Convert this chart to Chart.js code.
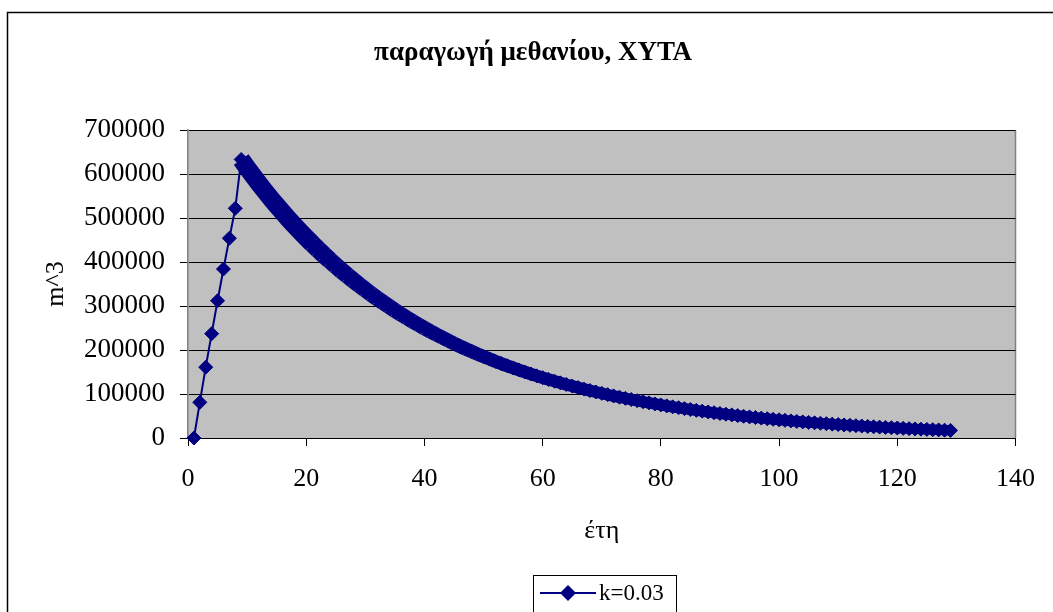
<!DOCTYPE html>
<html>
<head>
<meta charset="utf-8">
<title>παραγωγή μεθανίου, ΧΥΤΑ</title>
<script src="https://cdn.jsdelivr.net/npm/chart.js@4.4.1/dist/chart.umd.min.js"></script>
<style>
    html, body { margin: 0; padding: 0; background: #fff; }
    #wrap { width: 1053px; height: 612px; }
</style>
</head>
<body>
<div id="wrap"><canvas id="methaneChart" width="1053" height="612"></canvas></div>
<script>
// ==================== ДАННЫЕ ====================

const chartTitle = 'παραγωγή μεθανίου, ΧΥΤΑ';
const xTitle = 'έτη';
const yTitle = 'm^3';
const seriesLabel = 'k=0.03';

const years = [
    1, 2, 3, 4, 5, 6, 7, 8, 9, 10,
    11, 12, 13, 14, 15, 16, 17, 18, 19, 20,
    21, 22, 23, 24, 25, 26, 27, 28, 29, 30,
    31, 32, 33, 34, 35, 36, 37, 38, 39, 40,
    41, 42, 43, 44, 45, 46, 47, 48, 49, 50,
    51, 52, 53, 54, 55, 56, 57, 58, 59, 60,
    61, 62, 63, 64, 65, 66, 67, 68, 69, 70,
    71, 72, 73, 74, 75, 76, 77, 78, 79, 80,
    81, 82, 83, 84, 85, 86, 87, 88, 89, 90,
    91, 92, 93, 94, 95, 96, 97, 98, 99, 100,
    101, 102, 103, 104, 105, 106, 107, 108, 109, 110,
    111, 112, 113, 114, 115, 116, 117, 118, 119, 120,
    121, 122, 123, 124, 125, 126, 127, 128, 129
];

// m^3 per year
const methane = [
    0, 81000, 161000, 237000, 312000, 384000, 454000, 522000,
    633000, 614300, 596100, 578500, 561400, 544800, 528700, 513100, 497900, 483200,
    468900, 455100, 441600, 428600, 415900, 403600, 391700, 380100, 368900, 358000,
    347400, 337100, 327200, 317500, 308100, 299000, 290200, 281600, 273300, 265200,
    257400, 249700, 242400, 235200, 228300, 221500, 215000, 208600, 202400, 196500,
    190700, 185000, 179600, 174200, 169100, 164100, 159300, 154500, 150000, 145500,
    141200, 137100, 133000, 129100, 125300, 121600, 118000, 114500, 111100, 107800,
    104600, 101500, 98500, 95600, 92800, 90100, 87400, 84800, 82300, 79900,
    77500, 75200, 73000, 70800, 68800, 66700, 64700, 62800, 61000, 59200,
    57400, 55700, 54100, 52500, 50900, 49400, 48000, 46500, 45200, 43800,
    42500, 41300, 40100, 38900, 37700, 36600, 35500, 34500, 33500, 32500,
    31500, 30600, 29700, 28800, 28000, 27100, 26300, 25500, 24800, 24100,
    23300, 22700, 22000, 21300, 20700, 20100, 19500, 18900, 18400, 17800,
    17300
];

const xTicks = [0, 20, 40, 60, 80, 100, 120, 140];
const yTicks = [0, 100000, 200000, 300000, 400000, 500000, 600000, 700000];

// ==================== ОФОРМЛЕНИЕ ====================

const SERIF = "'Liberation Serif', 'Times New Roman', serif";
const NAVY = '#000080';
const PEAK_INDEX = 8;

/**
 * Фон, рамка, серая область графика, заголовки и легенда
 */
const excelLook = {
    id: 'excelLook',
    beforeDraw(chart) {
        const { ctx, chartArea: a } = chart;
        ctx.save();
        ctx.fillStyle = '#ffffff';
        ctx.fillRect(0, 0, chart.width, chart.height);

        // outer frame (runs off the right and bottom edges)
        ctx.strokeStyle = '#000000';
        ctx.lineWidth = 1.5;
        ctx.strokeRect(7.5, 12.5, chart.width + 20, chart.height + 20);

        // plot area
        ctx.fillStyle = '#c0c0c0';
        ctx.fillRect(a.left, a.top, a.right - a.left, a.bottom - a.top);
        ctx.strokeStyle = '#808080';
        ctx.lineWidth = 1.5;
        ctx.beginPath();
        ctx.moveTo(a.right, a.top);
        ctx.lineTo(a.right, a.bottom);
        ctx.stroke();
        ctx.restore();
    },
    afterDraw(chart) {
        const { ctx, chartArea: a } = chart;
        ctx.save();
        ctx.fillStyle = '#000000';

        // title
        ctx.font = 'bold 27px ' + SERIF;
        ctx.textAlign = 'center';
        ctx.textBaseline = 'alphabetic';
        ctx.fillText(chartTitle, 533, 60);

        // axis titles
        ctx.font = '26px ' + SERIF;
        ctx.fillText(xTitle, (a.left + a.right) / 2, 538);
        ctx.save();
        ctx.translate(63, (a.top + a.bottom) / 2);
        ctx.rotate(-Math.PI / 2);
        ctx.fillText(yTitle, 0, 0);
        ctx.restore();

        // legend box
        const lx = 533, ly = 575, lw = 143, lh = 40;
        ctx.strokeStyle = '#000000';
        ctx.lineWidth = 1;
        ctx.strokeRect(lx + 0.5, ly + 0.5, lw, lh);
        const my = 593;
        ctx.strokeStyle = NAVY;
        ctx.lineWidth = 2;
        ctx.beginPath();
        ctx.moveTo(540, my);
        ctx.lineTo(596, my);
        ctx.stroke();
        ctx.fillStyle = NAVY;
        ctx.beginPath();
        ctx.moveTo(568, my - 8);
        ctx.lineTo(576, my);
        ctx.lineTo(568, my + 8);
        ctx.lineTo(560, my);
        ctx.closePath();
        ctx.fill();
        ctx.fillStyle = '#000000';
        ctx.font = '23px ' + SERIF;
        ctx.textAlign = 'left';
        ctx.textBaseline = 'middle';
        ctx.fillText(seriesLabel, 599, my + 1);
        ctx.restore();
    }
};

// ==================== ГРАФИК ====================

const points = years.map((year, i) => ({ x: year, y: methane[i] }));

// after the peak the yearly markers overlap and merge into one band,
// thicker where the curve is steep
function segmentWidth(c) {
    if (c.p0DataIndex < PEAK_INDEX) return 2;
    const dx = Math.abs(c.p1.x - c.p0.x) || 1;
    const slope = Math.min(1, Math.abs(c.p1.y - c.p0.y) / dx);
    return 10 + 8 * slope;
}

new Chart(document.getElementById('methaneChart'), {
    type: 'line',
    data: {
        datasets: [{
            label: seriesLabel,
            data: points,
            borderColor: NAVY,
            backgroundColor: NAVY,
            borderWidth: 2,
            borderCapStyle: 'butt',
            borderJoinStyle: 'round',
            segment: { borderWidth: segmentWidth },
            pointStyle: 'rectRot',
            pointRadius: 7,
            pointBorderWidth: 1,
            pointBorderColor: NAVY,
            pointBackgroundColor: NAVY,
            tension: 0,
            clip: false
        }]
    },
    options: {
        responsive: false,
        animation: false,
        layout: { padding: { left: 0, right: 32, top: 130, bottom: 74 } },
        plugins: {
            legend: { display: false },
            title: { display: false },
            tooltip: { enabled: false }
        },
        scales: {
            x: {
                type: 'linear',
                min: 0,
                max: 140,
                afterFit: (scale) => { scale.height = 100; },
                afterBuildTicks: (scale) => { scale.ticks = xTicks.map(v => ({ value: v })); },
                grid: { drawOnChartArea: false, drawTicks: true, tickLength: 8, color: '#000000' },
                border: { color: '#000000', width: 1 },
                ticks: {
                    color: '#000000',
                    padding: 18,
                    maxRotation: 0,
                    font: { family: SERIF, size: 26 },
                    callback: (v) => String(v)
                }
            },
            y: {
                min: 0,
                max: 700000,
                afterFit: (scale) => { scale.width = 188; },
                afterBuildTicks: (scale) => { scale.ticks = yTicks.map(v => ({ value: v })); },
                grid: { drawOnChartArea: true, drawTicks: true, tickLength: 8, color: '#000000', lineWidth: 1 },
                border: { color: '#808080', width: 1.5 },
                ticks: {
                    color: '#000000',
                    padding: 15,
                    font: { family: SERIF, size: 27 },
                    callback: (v) => String(v)
                }
            }
        }
    },
    plugins: [excelLook]
});
</script>
</body>
</html>
